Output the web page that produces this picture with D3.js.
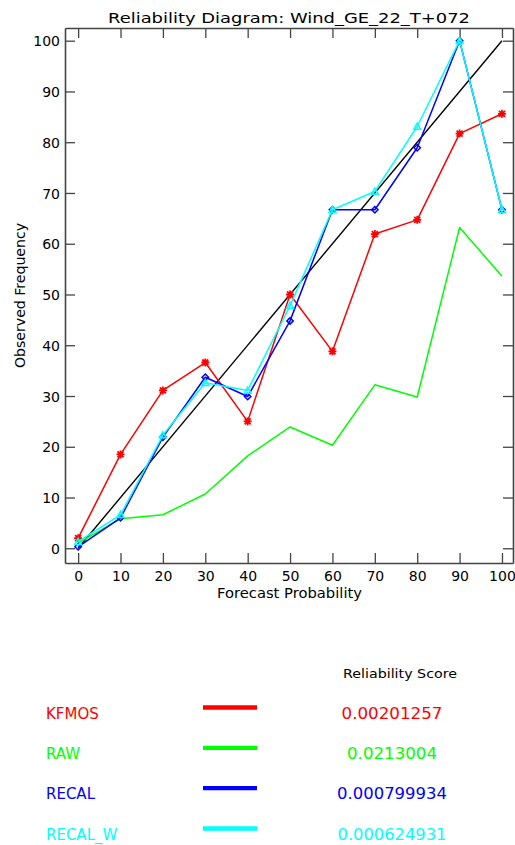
<!DOCTYPE html>
<html>
<head>
<meta charset="utf-8">
<script src="https://cdn.jsdelivr.net/npm/d3@7"></script>
<style>
  html, body { margin: 0; padding: 0; background: #fff; }
  svg { display: block; font-family: "DejaVu Sans", sans-serif; }
</style>
</head>
<body>
<svg id="chart" width="515" height="845"></svg>
<script>
// ---------------- data ----------------
const titleText = "Reliability Diagram: Wind_GE_22_T+072";
const xLabel = "Forecast Probability";
const yLabel = "Observed Frequency";
const probabilities = [0, 10, 20, 30, 40, 50, 60, 70, 80, 90, 100];
const xTicks = [0, 10, 20, 30, 40, 50, 60, 70, 80, 90, 100];
const yTicks = [0, 10, 20, 30, 40, 50, 60, 70, 80, 90, 100];
const seriesNames = ["KFMOS", "RAW", "RECAL", "RECAL_W"];
const kfmos   = [2.0, 18.5, 31.1, 36.6, 25.0, 50.0, 38.8, 61.9, 64.7, 81.7, 85.6];
const raw     = [1.0, 5.8, 6.6, 10.7, 18.2, 23.9, 20.3, 32.2, 29.8, 63.2, 53.6];
const recal   = [0.3, 6.0, 21.9, 33.7, 29.9, 44.8, 66.7, 66.7, 78.9, 100.0, 66.7];
const recalW  = [1.3, 6.6, 22.3, 32.6, 31.1, 47.8, 66.7, 70.3, 83.1, 100.0, 66.7];
const diagonal = [0, 100];
const scoreHeader = "Reliability Score";
const scores = ["0.00201257", "0.0213004", "0.000799934", "0.000624931"];

// ---------------- styles / layout ----------------
const seriesValues = [kfmos, raw, recal, recalW];
const colors = ["#ff0000", "#00ff00", "#0000ff", "#00ffff"];
const markers = ["asterisk", null, "diamond", "triangle"];
const scoreWidths = [101, 90, 110, 109];

const svg = d3.select("#chart");
const x = d3.scaleLinear().domain([-3.1, 102.6]).range([65, 513]);
const y = d3.scaleLinear().domain([-2.9, 102.5]).range([563, 28]);

const axisColor = "#444";
function styleAxis(g) {
  g.selectAll("path.domain").attr("stroke", axisColor).attr("stroke-width", 1.6);
  g.selectAll(".tick line").attr("stroke", axisColor).attr("stroke-width", 1.3);
  g.selectAll(".tick text").attr("fill", "#000").style("font-size", "14px")
    .style("font-family", "'DejaVu Sans', sans-serif");
}

svg.append("g").attr("transform", `translate(0,563)`)
  .call(d3.axisBottom(x).tickValues(xTicks).tickSizeInner(-10).tickSizeOuter(0).tickPadding(7.8))
  .call(styleAxis);
svg.append("g").attr("transform", `translate(0,28)`)
  .call(d3.axisTop(x).tickValues(xTicks).tickSizeInner(-10).tickSizeOuter(0).tickFormat(""))
  .call(styleAxis);
const ya = svg.append("g").attr("transform", `translate(65,0)`)
  .call(d3.axisLeft(y).tickValues(yTicks).tickSizeInner(-10).tickSizeOuter(0).tickPadding(5))
  .call(styleAxis);
ya.selectAll(".tick text").attr("dy", "0.36em");
svg.append("g").attr("transform", `translate(513,0)`)
  .call(d3.axisRight(y).tickValues(yTicks).tickSizeInner(-10).tickSizeOuter(0).tickFormat(""))
  .call(styleAxis);

// title and labels
svg.append("text").attr("x", 289).attr("y", 22.5).attr("text-anchor", "middle")
  .attr("textLength", 362).attr("lengthAdjust", "spacingAndGlyphs")
  .style("font-size", "14px").text(titleText);
svg.append("text").attr("x", 289.5).attr("y", 597.5).attr("text-anchor", "middle")
  .attr("textLength", 145).attr("lengthAdjust", "spacingAndGlyphs")
  .style("font-size", "14px").text(xLabel);
svg.append("text").attr("transform", "translate(25,295.5) rotate(-90)").attr("text-anchor", "middle")
  .attr("textLength", 145).attr("lengthAdjust", "spacingAndGlyphs")
  .style("font-size", "14px").text(yLabel);

// diagonal
const line = d3.line().x(d => x(d[0])).y(d => y(d[1]));
svg.append("path").datum(diagonal.map(v => [v, v])).attr("d", line)
  .attr("fill", "none").attr("stroke", "#000").attr("stroke-width", 1.4);

// series
seriesValues.forEach((vals, i) => {
  const pts = probabilities.map((p, j) => [p, vals[j]]);
  const g = svg.append("g");
  g.append("path").datum(pts).attr("d", line)
    .attr("fill", "none").attr("stroke", colors[i]).attr("stroke-width", 1.5)
    .attr("stroke-linejoin", "round");
  const m = markers[i];
  if (!m) return;
  const mg = g.selectAll("g.m").data(pts).enter().append("g")
    .attr("transform", d => `translate(${x(d[0])},${y(d[1])})`);
  if (m === "asterisk") {
    const s = 4;
    mg.append("path").attr("d", `M${-s},0H${s}M0,${-s}V${s}M${-s*0.75},${-s*0.75}L${s*0.75},${s*0.75}M${-s*0.75},${s*0.75}L${s*0.75},${-s*0.75}`)
      .attr("stroke", colors[i]).attr("stroke-width", 1.8).attr("fill", "none");
  } else if (m === "diamond") {
    const s = 3.2;
    mg.append("path").attr("d", `M0,${-s}L${s},0L0,${s}L${-s},0Z`)
      .attr("stroke", colors[i]).attr("stroke-width", 1.5).attr("fill", "none");
  } else if (m === "triangle") {
    const s = 3.4;
    mg.append("path").attr("d", `M0,${-s}L${s},${s*0.8}L${-s},${s*0.8}Z`)
      .attr("stroke", colors[i]).attr("stroke-width", 1.5).attr("fill", "none");
  }
});

// legend
svg.append("text").attr("x", 400).attr("y", 678).attr("text-anchor", "middle")
  .attr("textLength", 114).attr("lengthAdjust", "spacingAndGlyphs")
  .style("font-size", "13px").text(scoreHeader);
const rowY = d3.scaleLinear().domain([0, 3]).range([718.5, 839.5]);
seriesNames.forEach((name, i) => {
  const by = rowY(i);
  svg.append("text").attr("x", 46).attr("y", by).attr("fill", colors[i])
    .style("font-size", "15px").text(name);
  svg.append("line").attr("x1", 203).attr("x2", 257).attr("y1", by - 11).attr("y2", by - 11)
    .attr("stroke", colors[i]).attr("stroke-width", 4.3);
  svg.append("text").attr("x", 392).attr("y", by).attr("text-anchor", "middle").attr("fill", colors[i])
    .attr("textLength", scoreWidths[i]).attr("lengthAdjust", "spacingAndGlyphs")
    .style("font-size", "15px").text(scores[i]);
});
</script>
</body>
</html>
